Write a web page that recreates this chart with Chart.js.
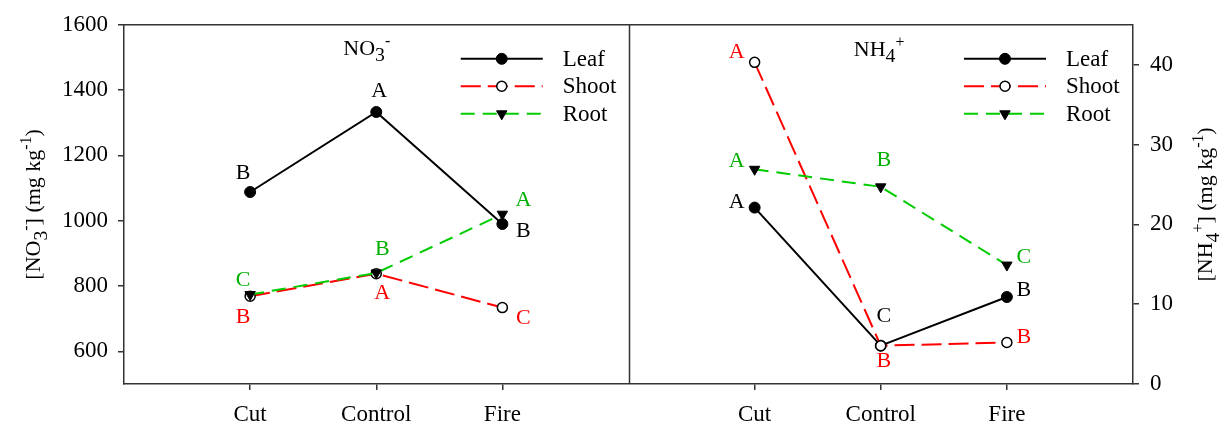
<!DOCTYPE html>
<html>
<head>
<meta charset="utf-8">
<script src="https://cdn.jsdelivr.net/npm/chart.js@4.4.1/dist/chart.umd.min.js"></script>
<style>
  html, body { margin: 0; padding: 0; background: #fff; }
  #wrap { width: 1231px; height: 424px; position: relative; }
</style>
</head>
<body>
<div id="wrap"><canvas id="c" width="1231" height="424"></canvas></div>
<script>
// Treatments shown on both panels
const categories = ['Cut', 'Control', 'Fire'];

// Nitrate concentration (mg kg-1)
const no3Leaf  = [1088, 1333, 990];
const no3Shoot = [769, 838, 734];
const no3Root  = [774, 840, 1020];

// Ammonium concentration (mg kg-1)
const nh4Leaf  = [22.1, 4.8, 10.9];
const nh4Shoot = [40.3, 4.8, 5.2];
const nh4Root  = [26.9, 24.7, 14.9];

// Significance letters
const no3LeafLetters  = ['B', 'A', 'B'];
const no3ShootLetters = ['B', 'A', 'C'];
const no3RootLetters  = ['C', 'B', 'A'];
const nh4LeafLetters  = ['A', 'C', 'B'];
const nh4ShootLetters = ['A', 'B', 'B'];
const nh4RootLetters  = ['A', 'B', 'C'];

// Axis ticks
const no3Ticks = [600, 800, 1000, 1200, 1400, 1600];
const nh4Ticks = [0, 10, 20, 30, 40];

const SERIF = "'Liberation Serif', 'Times New Roman', serif";
const AXIS = '#333333';
const GREEN_LINE = '#00cc00';
const GREEN_TEXT = '#00b000';
const RED = '#ff0000';

// Left panel sits on x = 1..3, right panel on x = 5..7, divider at x = 4
const LEFT_X = categories.map((c, i) => i + 1);
const RIGHT_X = categories.map((c, i) => i + 5);
const DIVIDER_X = 4;

const toPoints = (xs, ys) => ys.map((v, i) => ({ x: xs[i], y: v }));

const styles = {
  leaf: {
    borderColor: '#000', borderWidth: 2, borderDash: [],
    pointStyle: 'circle', pointRadius: 5.5, pointRotation: 0,
    pointBackgroundColor: '#000', pointBorderColor: '#000', pointBorderWidth: 1,
    textColor: '#000'
  },
  shoot: {
    borderColor: RED, borderWidth: 2, borderDash: [20, 7],
    pointStyle: 'circle', pointRadius: 5, pointRotation: 0,
    pointBackgroundColor: '#fff', pointBorderColor: '#000', pointBorderWidth: 1.5,
    textColor: RED
  },
  root: {
    borderColor: GREEN_LINE, borderWidth: 2, borderDash: [14, 8],
    pointStyle: 'triangle', pointRadius: 6, pointRotation: 180,
    pointBackgroundColor: '#000', pointBorderColor: '#000', pointBorderWidth: 1,
    textColor: GREEN_TEXT
  }
};

// Letter placement relative to each marker (dx, dy)
const letterPlacement = {
  no3Leaf:  [[-7, -19], [3, -21], [21, 7]],
  no3Shoot: [[-7, 21], [6, 20], [21, 11]],
  no3Root:  [[-7, -14], [6, -24], [21, -14]],
  nh4Leaf:  [[-18, -5], [3, -29], [17, -7]],
  nh4Shoot: [[-18, -10], [3, 16], [17, -5]],
  nh4Root:  [[-18, -8], [3, -27], [17, -8]]
};

function makeSet(label, key, style, xs, ys, letters, axis, order) {
  return {
    label: label,
    key: key,
    data: toPoints(xs, ys),
    letters: letters,
    yAxisID: axis,
    order: order,
    borderColor: style.borderColor,
    borderWidth: style.borderWidth,
    borderDash: style.borderDash,
    pointStyle: style.pointStyle,
    pointRadius: style.pointRadius,
    pointRotation: style.pointRotation,
    pointBackgroundColor: style.pointBackgroundColor,
    pointBorderColor: style.pointBorderColor,
    pointBorderWidth: style.pointBorderWidth,
    textColor: style.textColor,
    tension: 0,
    fill: false
  };
}

const datasets = [
  makeSet('Leaf', 'no3Leaf', styles.leaf, LEFT_X, no3Leaf, no3LeafLetters, 'y', 2),
  makeSet('Shoot', 'no3Shoot', styles.shoot, LEFT_X, no3Shoot, no3ShootLetters, 'y', 1),
  makeSet('Root', 'no3Root', styles.root, LEFT_X, no3Root, no3RootLetters, 'y', 0),
  makeSet('Leaf', 'nh4Leaf', styles.leaf, RIGHT_X, nh4Leaf, nh4LeafLetters, 'y2', 2),
  makeSet('Shoot', 'nh4Shoot', styles.shoot, RIGHT_X, nh4Shoot, nh4ShootLetters, 'y2', 1),
  makeSet('Root', 'nh4Root', styles.root, RIGHT_X, nh4Root, nh4RootLetters, 'y2', 0)
];

// Draws text made of normal / subscript / superscript runs, starting at x (left)
function richWidth(ctx, parts, size) {
  let w = 0;
  parts.forEach(p => {
    const s = p[1] === 'sub' ? size * 0.9 : p[1] === 'sup' ? size * 0.72 : size;
    ctx.font = s + 'px ' + SERIF;
    w += ctx.measureText(p[0]).width;
  });
  return w;
}
function drawRich(ctx, parts, x, y, size, color) {
  ctx.save();
  ctx.fillStyle = color;
  ctx.textBaseline = 'alphabetic';
  ctx.textAlign = 'left';
  let cx = x;
  parts.forEach(p => {
    let s = size, dy = 0;
    if (p[1] === 'sub') { s = size * 0.9; dy = size * 0.3; }
    if (p[1] === 'sup') { s = size * 0.72; dy = -size * 0.42; }
    ctx.font = s + 'px ' + SERIF;
    ctx.fillText(p[0], cx, y + dy);
    cx += ctx.measureText(p[0]).width;
  });
  ctx.restore();
}

function drawMarker(ctx, ds, x, y) {
  ctx.save();
  ctx.fillStyle = ds.pointBackgroundColor;
  ctx.strokeStyle = ds.pointBorderColor;
  ctx.lineWidth = ds.pointBorderWidth;
  ctx.setLineDash([]);
  Chart.helpers.drawPoint(ctx, {
    pointStyle: ds.pointStyle,
    radius: ds.pointRadius,
    rotation: ds.pointRotation,
    borderWidth: ds.pointBorderWidth
  }, x, y);
  ctx.restore();
}

const decorations = {
  id: 'decorations',
  beforeDatasetsDraw(chart) {
    const ctx = chart.ctx;
    const a = chart.chartArea;
    const xs = chart.scales.x;
    ctx.save();
    ctx.strokeStyle = AXIS;
    ctx.lineWidth = 1.5;
    ctx.beginPath();
    ctx.moveTo(a.left, a.top);
    ctx.lineTo(a.right, a.top);
    const dx = Math.round(xs.getPixelForValue(DIVIDER_X)) + 0.5;
    ctx.moveTo(dx, a.top);
    ctx.lineTo(dx, a.bottom);
    ctx.stroke();
    ctx.restore();
  },
  afterDatasetsDraw(chart) {
    const ctx = chart.ctx;
    const a = chart.chartArea;
    const xs = chart.scales.x;

    // significance letters
    chart.data.datasets.forEach((ds, i) => {
      const meta = chart.getDatasetMeta(i);
      const place = letterPlacement[ds.key];
      ctx.save();
      ctx.font = '22px ' + SERIF;
      ctx.fillStyle = ds.textColor;
      ctx.textAlign = 'center';
      ctx.textBaseline = 'middle';
      meta.data.forEach((pt, j) => {
        ctx.fillText(ds.letters[j], pt.x + place[j][0], pt.y + place[j][1]);
      });
      ctx.restore();
    });

    // panel titles
    const leftC = xs.getPixelForValue(2);
    const rightC = xs.getPixelForValue(6);
    const t1 = [['NO', ''], ['3', 'sub'], ['-', 'sup']];
    const t2 = [['NH', ''], ['4', 'sub'], ['+', 'sup']];
    drawRich(ctx, t1, leftC - 33, a.top + 30, 22, '#000');
    drawRich(ctx, t2, rightC - 27, a.top + 31, 22, '#000');

    // legends, one per panel
    const sets = [[0, 1, 2], [3, 4, 5]];
    const anchors = [xs.getPixelForValue(2.67), xs.getPixelForValue(6.66)];
    sets.forEach((idxs, p) => {
      const x0 = anchors[p];
      idxs.forEach((di, r) => {
        const ds = chart.data.datasets[di];
        const y = a.top + 34 + r * 27.5;
        ctx.save();
        ctx.strokeStyle = ds.borderColor;
        ctx.lineWidth = ds.borderWidth;
        ctx.setLineDash(ds.borderDash);
        ctx.beginPath();
        ctx.moveTo(x0, y);
        ctx.lineTo(x0 + 82, y);
        ctx.stroke();
        ctx.restore();
        drawMarker(ctx, ds, x0 + 41, y);
        ctx.save();
        ctx.font = '23px ' + SERIF;
        ctx.fillStyle = '#000';
        ctx.textAlign = 'left';
        ctx.textBaseline = 'middle';
        ctx.fillText(ds.label, x0 + 102, y + 1);
        ctx.restore();
      });
    });

    // rotated axis titles
    const yt1 = [['[NO', ''], ['3', 'sub'], ['-', 'sup'], ['] (mg kg', ''], ['-1', 'sup'], [')', '']];
    const yt2 = [['[NH', ''], ['4', 'sub'], ['+', 'sup'], ['] (mg kg', ''], ['-1', 'sup'], [')', '']];
    const midY = (a.top + a.bottom) / 2;
    [[yt1, 40], [yt2, 1212]].forEach(([parts, x]) => {
      const w = richWidth(ctx, parts, 22);
      ctx.save();
      ctx.translate(x, midY);
      ctx.rotate(-Math.PI / 2);
      drawRich(ctx, parts, -w / 2, 0, 22, '#000');
      ctx.restore();
    });
  }
};

new Chart(document.getElementById('c'), {
  type: 'line',
  data: { datasets: datasets },
  options: {
    responsive: false,
    devicePixelRatio: 1,
    animation: false,
    events: [],
    layout: { autoPadding: false, padding: { top: 23, left: 0, right: 0, bottom: 0 } },
    plugins: { legend: { display: false }, tooltip: { enabled: false }, title: { display: false } },
    scales: {
      x: {
        type: 'linear',
        min: 0,
        max: 8,
        afterBuildTicks: s => { s.ticks = LEFT_X.concat(RIGHT_X).map(v => ({ value: v })); },
        afterFit: s => { s.height = 40; },
        ticks: {
          autoSkip: false,
          maxRotation: 0,
          padding: 11,
          color: '#000',
          font: { family: SERIF, size: 23 },
          callback: v => categories[(v - 1) % 4]
        },
        grid: { drawOnChartArea: false, drawTicks: true, tickLength: 6, color: AXIS, lineWidth: 1.5 },
        border: { display: true, color: AXIS, width: 1.5 }
      },
      y: {
        type: 'linear',
        position: 'left',
        min: 500,
        max: 1600,
        afterBuildTicks: s => { s.ticks = no3Ticks.map(v => ({ value: v })); },
        afterFit: s => { s.width = 124; },
        ticks: { padding: 10, color: '#000', font: { family: SERIF, size: 23 }, callback: v => String(v) },
        grid: { drawOnChartArea: false, drawTicks: true, tickLength: 6, color: AXIS, lineWidth: 1.5 },
        border: { display: true, color: AXIS, width: 1.5 }
      },
      y2: {
        type: 'linear',
        position: 'right',
        min: 0,
        max: 45,
        afterBuildTicks: s => { s.ticks = nh4Ticks.map(v => ({ value: v })); },
        afterFit: s => { s.width = 98; },
        ticks: { padding: 11, color: '#000', font: { family: SERIF, size: 23 }, callback: v => String(v) },
        grid: { drawOnChartArea: false, drawTicks: true, tickLength: 6, color: AXIS, lineWidth: 1.5 },
        border: { display: true, color: AXIS, width: 1.5 }
      }
    }
  },
  plugins: [decorations]
});
</script>
</body>
</html>
